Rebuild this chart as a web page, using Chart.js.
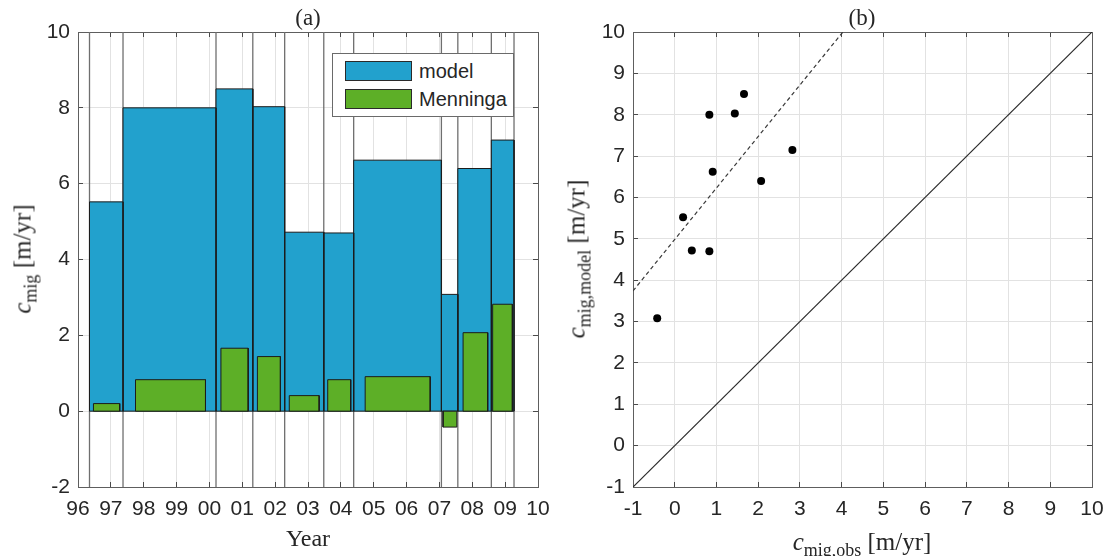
<!DOCTYPE html>
<html>
<head>
<meta charset="utf-8">
<script src="https://cdn.jsdelivr.net/npm/chart.js@4.4.1/dist/chart.umd.min.js"></script>
<style>
html,body{margin:0;padding:0;background:#fff;}
#wrap{position:relative;width:1109px;height:556px;overflow:hidden;background:#fff;}
canvas{position:absolute;top:0;}
#cA{left:0;}
#cB{left:555px;}
.lbl{position:absolute;font-family:"Liberation Serif","Times New Roman",serif;color:#262626;white-space:nowrap;line-height:1;transform:translate(-50%,-50%);}
.rot{transform:translate(-50%,-50%) rotate(-90deg);}
.lbl sub{font-size:72%;vertical-align:baseline;position:relative;top:0.32em;}
.it{font-style:italic;}
#legend{position:absolute;left:332px;top:53px;width:182px;height:64px;box-sizing:border-box;background:#fff;border:1px solid #6a6a6a;font-family:"Liberation Sans",Arial,sans-serif;font-size:20px;color:#262626;}
.row{position:absolute;left:12px;height:20px;display:flex;align-items:center;line-height:1;}
.sw{display:inline-block;width:67px;height:20px;box-sizing:border-box;border:1px solid #2a2a2a;margin-right:7px;}
</style>
</head>
<body>
<div id="wrap">
  <canvas id="cA" width="565" height="556"></canvas>
  <canvas id="cB" width="564" height="556"></canvas>

  <div class="lbl" style="left:308px;top:17px;font-size:23px;">(a)</div>
  <div class="lbl" style="left:862px;top:17px;font-size:23px;">(b)</div>
  <div class="lbl" style="left:308px;top:538px;font-size:24px;">Year</div>
  <div class="lbl rot" style="left:22px;top:259px;font-size:25px;"><span class="it">c</span><sub>mig</sub> [m/yr]</div>
  <div class="lbl rot" style="left:576px;top:259px;font-size:25px;"><span class="it">c</span><sub>mig,model</sub> [m/yr]</div>
  <div class="lbl" style="left:862px;top:541px;font-size:25px;"><span class="it">c</span><sub>mig,obs</sub> [m/yr]</div>

  <div id="legend">
    <div class="row" style="top:7px;"><span class="sw" id="swA"></span>model</div>
    <div class="row" style="top:35px;"><span class="sw" id="swB"></span>Menninga</div>
  </div>
</div>

<script>
// ---------------- data ----------------
const yearTickLabels = ['96','97','98','99','00','01','02','03','04','05','06','07','08','09','10'];
// survey-period boundaries (decimal years)
const periodEdges   = [1996.35, 1997.37, 2000.20, 2001.32, 2002.29, 2003.48, 2004.39, 2007.06, 2007.56, 2008.58, 2009.27];
// model migration rate per period [m/yr]
const modelRate     = [5.52, 8.00, 8.50, 8.03, 4.72, 4.70, 6.62, 3.08, 6.40, 7.15];
// Menninga bars (start, end, value)
const menningaStart = [1996.47, 1997.75, 2000.35, 2001.46, 2002.43, 2003.60, 2004.74, 2007.11, 2007.72, 2008.62];
const menningaEnd   = [1997.27, 1999.88, 2001.18, 2002.16, 2003.34, 2004.30, 2006.72, 2007.53, 2008.47, 2009.22];
const menningaRate  = [0.20, 0.83, 1.66, 1.44, 0.41, 0.83, 0.91, -0.42, 2.07, 2.82];
// dashed fit line end points in panel (b)
const fitLineX = [-1, 4.03];
const fitLineY = [3.74, 10];
// 1:1 line end points
const unityLine = [-1, 10];

// axis ranges
const axA = {xMin:1996, xMax:2010, yMin:-2, yMax:10, yStep:2};
const axB = {xMin:-1, xMax:10, yMin:-1, yMax:10};

// ---------------- styles ----------------
const BLUE = '#22A1CD', GREEN = '#5DAF27', EDGE = '#1c1c1c';
const GRID = '#e2e2e2', BOX = '#5e5e5e', TICKC = '#4a4a4a', TXT = '#262626';
const tickFont = {family:'"Liberation Sans", Arial, sans-serif', size:21};
document.getElementById('swA').style.background = BLUE;
document.getElementById('swB').style.background = GREEN;

function rect(x0, x1, v){
  return [{x:x0,y:0},{x:x0,y:v},{x:x1,y:v},{x:x1,y:0},{x:x0,y:0}];
}

function makeScales(ax, xStep, yStep, xCb, sizes){
  const common = (min,max)=>({type:'linear', min:min, max:max});
  return {
    x: Object.assign(common(ax.xMin, ax.xMax), {
      position:'bottom',
      ticks:{stepSize:xStep, autoSkip:false, maxRotation:0, minRotation:0, padding:15, color:TXT, font:tickFont, callback:xCb},
      grid:{color:GRID, lineWidth:1, tickLength:-5, tickColor:TICKC, tickWidth:1},
      border:{display:true, color:BOX, width:1},
      afterFit:s=>{s.height = sizes.bottom;}
    }),
    x2: Object.assign(common(ax.xMin, ax.xMax), {
      position:'top',
      ticks:{stepSize:xStep, display:false},
      grid:{drawOnChartArea:false, tickLength:-5, tickColor:TICKC, tickWidth:1},
      border:{display:true, color:BOX, width:1},
      afterFit:s=>{s.height = sizes.top;}
    }),
    y: Object.assign(common(ax.yMin, ax.yMax), {
      position:'left',
      ticks:{stepSize:yStep, padding:13, color:TXT, font:tickFont},
      grid:{color:GRID, lineWidth:1, tickLength:-5, tickColor:TICKC, tickWidth:1},
      border:{display:true, color:BOX, width:1},
      afterFit:s=>{s.width = sizes.left;}
    }),
    y2: Object.assign(common(ax.yMin, ax.yMax), {
      position:'right',
      ticks:{stepSize:yStep, display:false},
      grid:{drawOnChartArea:false, tickLength:-5, tickColor:TICKC, tickWidth:1},
      border:{display:true, color:BOX, width:1},
      afterFit:s=>{s.width = sizes.right;}
    })
  };
}

const baseOpts = {
  responsive:false, animation:false, events:[],
  layout:{padding:0},
  plugins:{legend:{display:false}, tooltip:{enabled:false}},
  elements:{line:{tension:0}, point:{radius:0}}
};

// ---------------- panel (a) ----------------
const dsA = [];
periodEdges.forEach(b=>{
  dsA.push({data:[{x:b,y:axA.yMin},{x:b,y:axA.yMax}], borderColor:'#6f6f6f', borderWidth:1.3, fill:false, pointRadius:0, order:3});
});
modelRate.forEach((v,i)=>{
  dsA.push({data:rect(periodEdges[i], periodEdges[i+1], v), backgroundColor:BLUE, borderColor:EDGE, borderWidth:1, fill:'shape', pointRadius:0, borderJoinStyle:'miter', order:2});
});
menningaRate.forEach((v,i)=>{
  dsA.push({data:rect(menningaStart[i], menningaEnd[i], v), backgroundColor:GREEN, borderColor:EDGE, borderWidth:1, fill:'shape', pointRadius:0, borderJoinStyle:'miter', order:1});
});

new Chart(document.getElementById('cA'), {
  type:'line',
  data:{datasets:dsA},
  options:Object.assign({}, baseOpts, {
    scales:makeScales(axA, 1, axA.yStep, (v,i)=>yearTickLabels[i], {left:78, right:27, top:32, bottom:69})
  })
});

// ---------------- panel (b) ----------------
const dsB = [
  {data:[{x:unityLine[0],y:unityLine[0]},{x:unityLine[1],y:unityLine[1]}], borderColor:'#2a2a2a', borderWidth:1.2, fill:false, pointRadius:0, order:3},
  {data:[{x:fitLineX[0],y:fitLineY[0]},{x:fitLineX[1],y:fitLineY[1]}], borderColor:'#3a3a3a', borderWidth:1.2, borderDash:[4,3], fill:false, pointRadius:0, order:2},
  {data:menningaRate.map((m,i)=>({x:m, y:modelRate[i]})), showLine:false, pointRadius:4, pointBackgroundColor:'#000', pointBorderWidth:0, pointBorderColor:'#000', order:1}
];

new Chart(document.getElementById('cB'), {
  type:'line',
  data:{datasets:dsB},
  options:Object.assign({}, baseOpts, {
    scales:makeScales(axB, 1, 1, v=>String(v), {left:78, right:27, top:32, bottom:69})
  })
});
</script>
</body>
</html>
